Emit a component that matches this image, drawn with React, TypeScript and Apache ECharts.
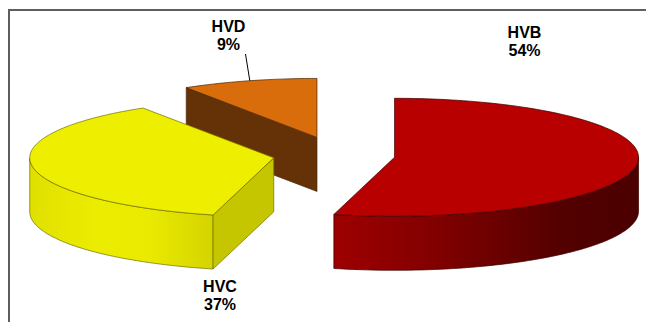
import React, { useEffect, useRef } from "react";
import * as echarts from "echarts";

// ---- data ----
const names: string[] = ["HVB", "HVC", "HVD"];
const values: number[] = [54, 37, 9];

// ---- styles ----
const topColors = ["#B80000", "#EEEE00", "#D96C0B"];
const cutColors = ["#6E0000", "#C6C600", "#653207"];
const strokeColors = ["#3C0000", "#6E6E00", "#4A2605"];
const wallStops: [number, string][][] = [
  [
    [0, "#9E0000"],
    [0.3, "#850000"],
    [0.55, "#690000"],
    [0.75, "#530000"],
    [1, "#4B0000"],
  ],
  [
    [0, "#E0E000"],
    [0.35, "#ECEC00"],
    [0.65, "#EAEA00"],
    [1, "#D4D400"],
  ],
  [
    [0, "#8A4A10"],
    [1, "#5A2C06"],
  ],
];

// ---- layout ----
const CX = 334;
const CY = 155;
const RX = 244;
const RY = 59;
const DEPTH = 54;
const EXPLODE = 61;
const EXPLODE_KY = 0.3;
const labelPos: Record<string, [number, number]> = {
  HVB: [524.5, 41.5],
  HVC: [220, 295.5],
  HVD: [228.5, 35.5],
};
const FONT = '"Liberation Sans", Arial, sans-serif';

const total = values.reduce((a, b) => a + b, 0);
const slices = (() => {
  let cum = 0;
  return values.map((v) => {
    const s = (cum / total) * 360;
    cum += v;
    const e = (cum / total) * 360;
    return { s, e };
  });
})();
const drawOrder = [2, 1, 0];

const rad = (d: number) => (d * Math.PI) / 180;
function pt(cx: number, cy: number, deg: number, h: number): number[] {
  const r = rad(deg);
  return [cx + RX * Math.sin(r), cy - RY * Math.cos(r) + h];
}
function arc(cx: number, cy: number, a: number, b: number, h: number) {
  const n = Math.max(2, Math.ceil(Math.abs(b - a) / 1.5));
  const pts: number[][] = [];
  for (let k = 0; k <= n; k++) pts.push(pt(cx, cy, a + ((b - a) * k) / n, h));
  return pts;
}

export default function App() {
  const ref = useRef<HTMLDivElement>(null);
  useEffect(() => {
    if (!ref.current) return;
    const chart = echarts.init(ref.current, undefined, { renderer: "svg" });

    const renderItem = (params: any) => {
      const i = drawOrder[params.dataIndex];
      const { s, e } = slices[i];
      const mid = (s + e) / 2;
      const cx = CX + EXPLODE * Math.sin(rad(mid));
      const cy = CY - EXPLODE * EXPLODE_KY * Math.cos(rad(mid));
      const children: any[] = [];
      const stroke = strokeColors[i];
      // outer wall (front half only)
      const a = Math.max(s, 90);
      const b = Math.min(e, 270);
      if (b > a) {
        const pts = arc(cx, cy, a, b, 0).concat(arc(cx, cy, b, a, DEPTH));
        children.push({
          type: "polygon",
          shape: { points: pts },
          style: {
            fill: new echarts.graphic.LinearGradient(
              0,
              0,
              1,
              0,
              wallStops[i].map(([offset, color]) => ({ offset, color }))
            ),
            stroke,
            lineWidth: 0.7,
            lineJoin: "round",
          },
        });
      }
      // cut faces
      const cut = (deg: number) => {
        const p0 = [cx, cy];
        const p1 = pt(cx, cy, deg, 0);
        const p2 = pt(cx, cy, deg, DEPTH);
        const p3 = [cx, cy + DEPTH];
        children.push({
          type: "polygon",
          shape: { points: [p0, p1, p2, p3] },
          style: { fill: cutColors[i], stroke, lineWidth: 0.7, lineJoin: "round" },
        });
      };
      if (Math.sin(rad(s)) < -1e-6) cut(s);
      if (Math.sin(rad(e)) > 1e-6) cut(e);
      // top face
      const top = [[cx, cy]].concat(arc(cx, cy, s, e, 0));
      children.push({
        type: "polygon",
        shape: { points: top },
        style: { fill: topColors[i], stroke, lineWidth: 0.7, lineJoin: "round" },
      });
      return { type: "group", children };
    };

    const labels = names.map((n, i) => ({
      type: "text",
      x: labelPos[n][0],
      y: labelPos[n][1],
      silent: true,
      style: {
        text: `${n}\n${Math.round((values[i] / total) * 100)}%`,
        align: "center",
        verticalAlign: "middle",
        fontFamily: FONT,
        fontSize: 16,
        fontWeight: "bold",
        lineHeight: 18.5,
        fill: "#000000",
      },
    }));

    chart.setOption({
      animation: false,
      backgroundColor: "#ffffff",
      graphic: [
        {
          type: "rect",
          silent: true,
          shape: { x: 9, y: 10, width: 700, height: 400 },
          style: { fill: "none", stroke: "#5E5E5E", lineWidth: 2 },
        },
        {
          type: "line",
          silent: true,
          shape: { x1: 245.5, y1: 54, x2: 250, y2: 82 },
          style: { stroke: "#000000", lineWidth: 1 },
        },
        ...labels,
      ],
      series: [
        {
          type: "custom",
          coordinateSystem: "none",
          renderItem,
          data: drawOrder.map((i) => ({ name: names[i], value: values[i] })),
        },
      ],
    });
    return () => chart.dispose();
  }, []);
  return (
    <div
      ref={ref}
      style={{ position: "absolute", left: 0, top: 0, width: 646, height: 322 }}
    />
  );
}
